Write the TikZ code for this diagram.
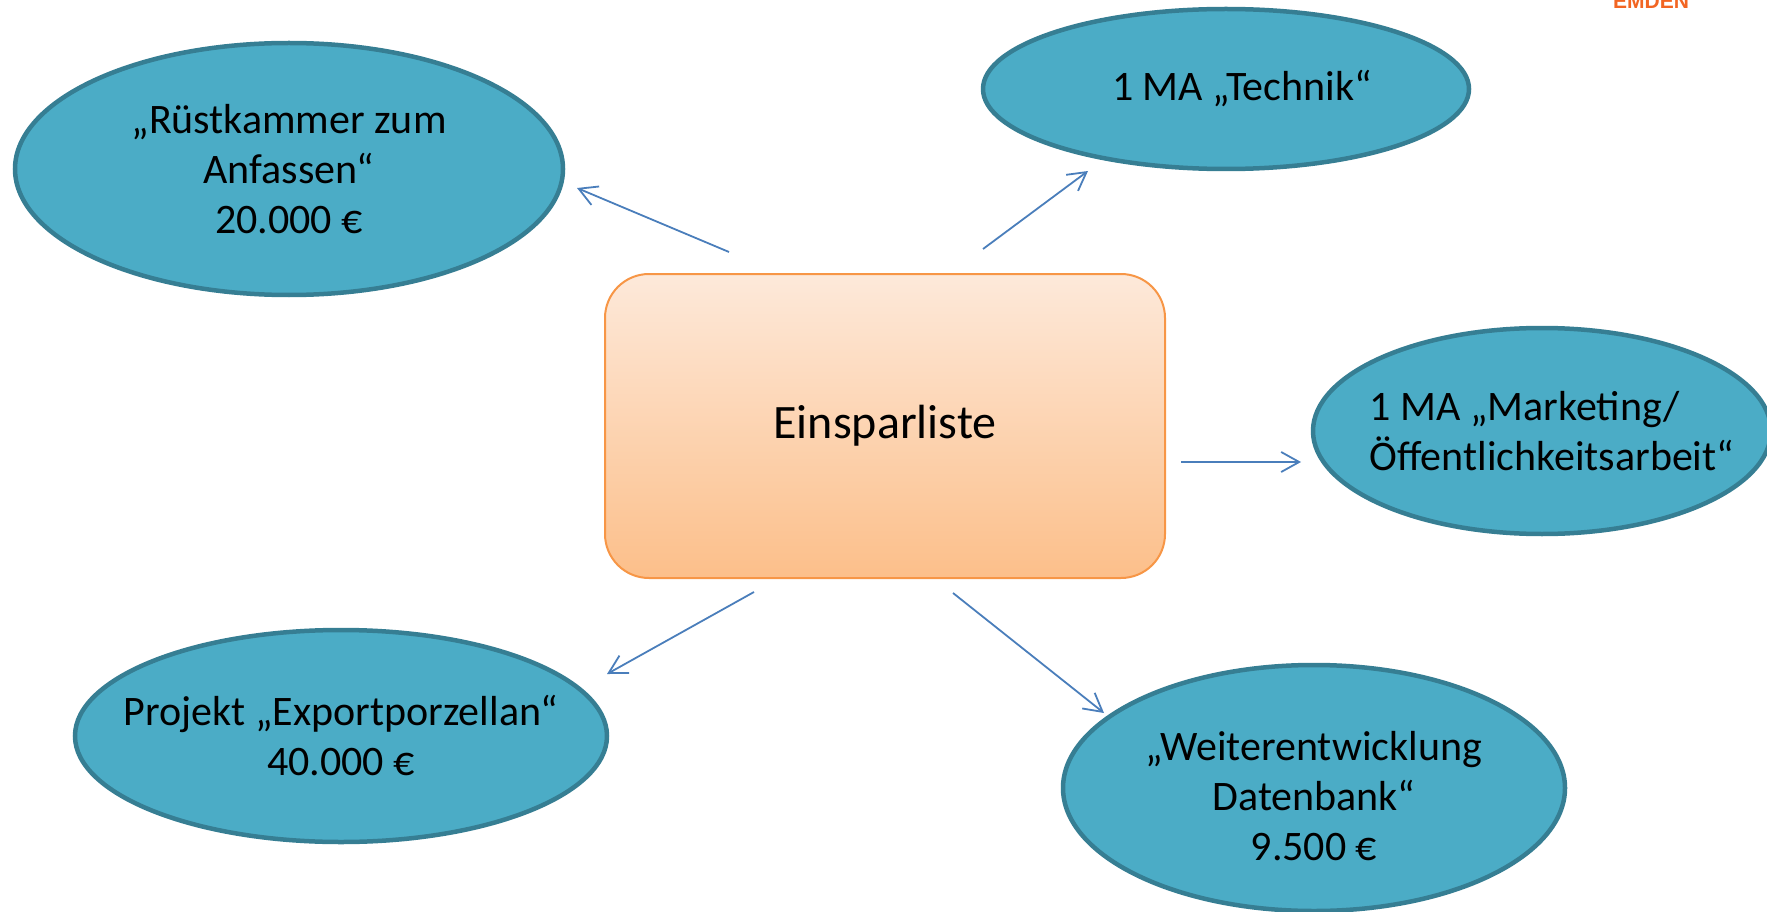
\documentclass[tikz,border=0pt]{standalone}
\usepackage{fontspec}
\setmainfont{Carlito}
\newfontfamily\logofont{Liberation Sans}
\usetikzlibrary{shapes.geometric,arrows.meta}
\definecolor{aqua}{HTML}{4BACC6}
\definecolor{aquaDark}{HTML}{367E93}
\definecolor{peachTop}{HTML}{FDE9DA}
\definecolor{peachBot}{HTML}{FCBF8A}
\definecolor{peachLine}{HTML}{F79646}
\definecolor{arrowBlue}{HTML}{4A7EBB}
\definecolor{logoOrange}{HTML}{F26522}
\begin{document}
\begin{tikzpicture}
        [x=1pt, y=-1pt,
        item/.style={ellipse, draw=aquaDark, fill=aqua, line width=4.5pt, inner xsep=-80pt, inner ysep=-40pt, align=center, font=\fontsize{42}{50}\selectfont},
        liste/.style={rectangle, rounded corners=44pt, draw=peachLine, line width=2pt, top color=peachTop, bottom color=peachBot, minimum width=560pt, minimum height=304pt, font=\fontsize{48}{56}\selectfont},
        link/.style={draw=arrowBlue, line width=1.8pt, -{Straight Barb[length=18pt, width=20pt]}}]
        \useasboundingbox (0,0) rectangle (1767,912);
        \node[anchor=base, text=logoOrange, font=\logofont\bfseries\fontsize{21}{21}\selectfont] (logo) at (1651,9) {EMDEN};

        \node[liste] (E) at (885,426) {Einsparliste};
        \node[item, minimum width=548pt, minimum height=252pt] (R) at (289,169) {„Rüstkammer zum\\Anfassen“\\20.000 €};
        \node[item, minimum width=486pt, minimum height=160pt,
              label={[xshift=16pt, font=\fontsize{42}{50}\selectfont]center:1 MA „Technik“}] (T) at (1226,89) {};
        \node[item, minimum width=458pt, minimum height=206pt,
              label={[xshift=10pt, align=left, font=\fontsize{42}{50}\selectfont]center:1 MA „Marketing/\\Öffentlichkeitsarbeit“}] (M) at (1542,431) {};
        \node[item, minimum width=532pt, minimum height=212pt] (P) at (341,736) {Projekt „Exportporzellan“\\40.000 €};
        \node[item, minimum width=502pt, minimum height=246pt,
              label={[yshift=-8pt, align=center, font=\fontsize{42}{50}\selectfont]center:„Weiterentwicklung\\Datenbank“\\9.500 €}] (D) at (1314,788) {};

        \coordinate (r0) at (729,252); \coordinate (r1) at (577,188);
        \coordinate (t0) at (983,249); \coordinate (t1) at (1088,171);
        \coordinate (m0) at (1181,462); \coordinate (m1) at (1301,462);
        \coordinate (p0) at (754,592); \coordinate (p1) at (607,674);
        \coordinate (d0) at (953,593); \coordinate (d1) at (1104,713);

        \draw[link] (r0) -- (r1);
        \draw[link] (t0) -- (t1);
        \draw[link] (m0) -- (m1);
        \draw[link] (p0) -- (p1);
        \draw[link] (d0) -- (d1);
\end{tikzpicture}
\end{document}
